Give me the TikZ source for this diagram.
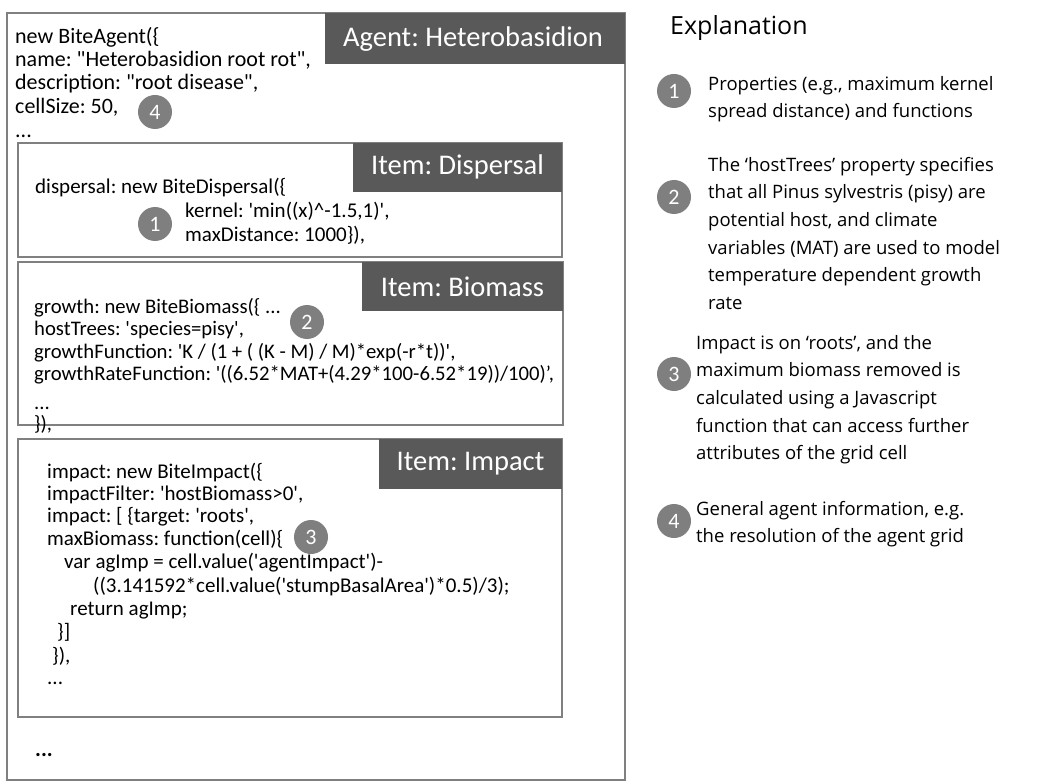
\documentclass[tikz,border=0pt]{standalone}
\usepackage{fontspec}
\setmainfont{Carlito}
\newfontfamily\expfont{Open Sans}
\newcommand{\q}{\textquotesingle}
\newcommand{\dq}{\textquotedbl}
\definecolor{boxline}{HTML}{808080}
\definecolor{titlefill}{HTML}{595959}
\definecolor{circfill}{HTML}{7F7F7F}
\begin{document}
\frenchspacing
\begin{tikzpicture}[x=1pt,y=-1pt,
  code/.style={anchor=base west,inner sep=0pt,font=\frenchspacing\fontsize{22}{22}\selectfont},
  codedisp/.style={code,font=\frenchspacing\fontsize{21}{21}\selectfont},
  codebio/.style={code,font=\frenchspacing\fontsize{20.7}{20.7}\selectfont},
  codesmall/.style={code,font=\frenchspacing\fontsize{21}{21}\selectfont},
  frame/.style={draw=boxline,line width=1.8pt},
  titlebox/.style={fill=titlefill,text=white,inner sep=0pt,font=\fontsize{28.5}{30}\selectfont},
  badge/.style={circle,fill=circfill,text=white,minimum size=34pt,inner sep=0pt,font=\fontsize{22}{22}\selectfont},
  expl/.style={anchor=north west,inner sep=0pt,align=left,font=\expfont\fontsize{18.5}{27.6}\selectfont},
]
\useasboundingbox (0,0) rectangle (1048,783);
\fill[white] (0,0) rectangle (1048,783);
% outer agent box
\draw[frame] (7,13) rectangle (625,780);
\fill[titlefill] (325,13) rectangle (625,64);
\node[titlebox] (tAgent) at (473,39) {Agent: Heterobasidion};
\node[code] (a1) at (15,44) {new BiteAgent(\{};
\node[code] (a2) at (15,67) {name: \dq Heterobasidion root rot\dq,};
\node[code] (a3) at (15,90) {description: \dq root disease\dq,};
\node[code] (a4) at (15,114) {cellSize: 50,};
\node[code] (a5) at (15,138) {...};
\node[badge] (c4) at (155,112) {4};
% dispersal
\draw[frame] (18,143) rectangle (562,257);
\fill[titlefill] (353,143) rectangle (562,192);
\node[titlebox] (tDisp) at (457.5,167) {Item: Dispersal};
\node[codedisp] (d1) at (35,194) {dispersal: new BiteDispersal(\{};
\node[codedisp] (d2) at (185,218) {kernel: \q min((x)\textasciicircum-1.5,1)\q,};
\node[codedisp] (d3) at (185,242) {maxDistance: 1000\}),};
\node[badge] (c1) at (155,224) {1};
% biomass
\draw[frame] (18,262) rectangle (563,425);
\fill[titlefill] (362,262) rectangle (563,311);
\node[titlebox] (tBio) at (462.5,287) {Item: Biomass};
\node[codebio] (b1) at (34,313) {growth: new BiteBiomass(\{ ...};
\node[codebio] (b2) at (34,335) {hostTrees: \q species=pisy\q,};
\node[codebio] (b3) at (34,358) {growthFunction: \q K / (1 + ( (K - M) / M)*exp(-r*t))\q,};
\node[codebio] (b4) at (34,380) {growthRateFunction: \q((6.52*MAT+(4.29*100-6.52*19))/100)’,};
\node[codebio] (b5) at (34,409) {...};
\node[codebio] (b6) at (34,430) {\}),};
\node[badge] (c2) at (307,322) {2};
% impact
\draw[frame] (18,439) rectangle (562,717);
\fill[titlefill] (379,439) rectangle (562,489);
\node[titlebox] (tImp) at (470.5,464) {Item: Impact};
\node[codesmall] (i1) at (47,478) {impact: new BiteImpact(\{};
\node[codesmall] (i2) at (47,500) {impactFilter: \q hostBiomass>0\q,};
\node[codesmall] (i3) at (47,522) {impact: [ \{target: \q roots\q,};
\node[codesmall] (i4) at (47,545) {maxBiomass: function(cell)\{};
\node[codesmall] (i5) at (64,568) {var agImp = cell.value(\q agentImpact\q)-};
\node[codesmall] (i6) at (93,592) {((3.141592*cell.value(\q stumpBasalArea\q)*0.5)/3);};
\node[codesmall] (i7) at (70,615) {return agImp;};
\node[codesmall] (i8) at (57,638) {\}]};
\node[codesmall] (i9) at (52,662) {\}),};
\node[codesmall] (i10) at (47,684) {...};
\node[badge] (c3) at (311,537) {3};
\node[code,font=\bfseries\fontsize{22}{22}\selectfont] (dots) at (35,756) {...};
% explanation
\node[anchor=west,inner sep=0pt,font=\expfont\fontsize{25}{28}\selectfont] (expTitle) at (670,28) {Explanation};
\node[badge] (e1) at (674,91) {1};
\node[expl] (x1) at (708,76) {Properties (e.g., maximum kernel\\spread distance) and functions};
\node[badge] (e2) at (674,197) {2};
\node[expl] (x2) at (708,157) {The ‘hostTrees’ property specifies\\that all Pinus sylvestris (pisy) are\\potential host, and climate\\variables (MAT) are used to model\\temperature dependent growth\\rate};
\node[badge] (e3) at (674,374) {3};
\node[expl] (x3) at (696,335) {Impact is on ‘roots’, and the\\maximum biomass removed  is\\calculated using a Javascript\\function that can access further\\attributes of the grid cell};
\node[badge] (e4) at (674,521) {4};
\node[expl] (x4) at (696,501) {General agent information, e.g.\\the resolution of the agent grid};
\end{tikzpicture}
\end{document}
